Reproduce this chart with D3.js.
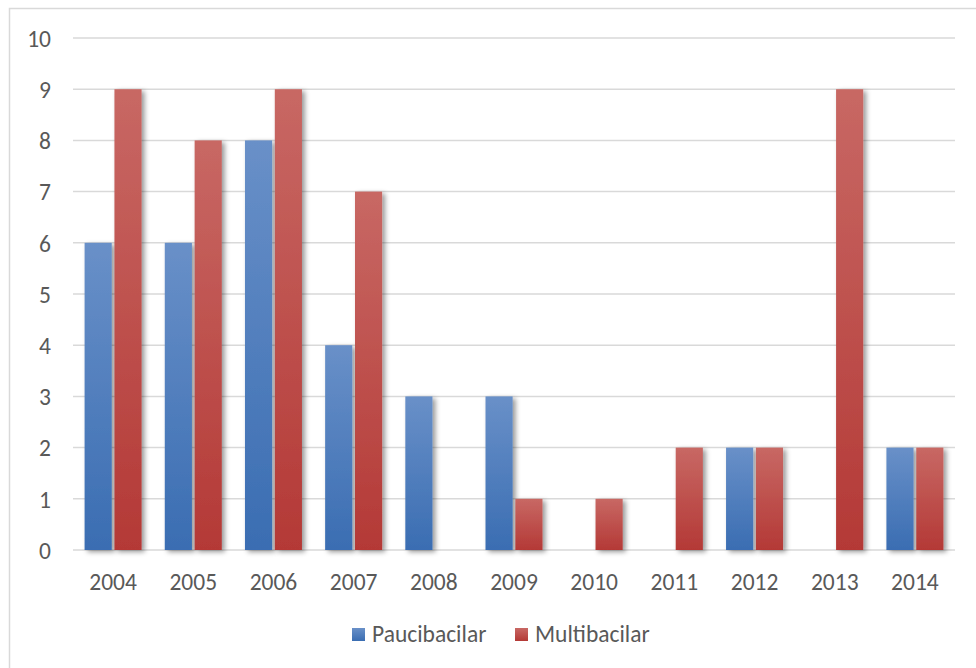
<!DOCTYPE html>
<html>
<head>
<meta charset="utf-8">
<script src="https://cdn.jsdelivr.net/npm/d3@7"></script>
<style>
  html, body { margin: 0; padding: 0; background: #fff; }
  svg { display: block; }
  text { font-family: Carlito, "Open Sans", "Liberation Sans", sans-serif; fill: #595959; }
</style>
</head>
<body>
<svg id="chart" width="976" height="668"></svg>
<script>
// Cases per year by clinical form
const years = ["2004", "2005", "2006", "2007", "2008", "2009", "2010", "2011", "2012", "2013", "2014"];
const paucibacilar = [6, 6, 8, 4, 3, 3, 0, 0, 2, 0, 2];
const multibacilar = [9, 8, 9, 7, 0, 1, 1, 2, 2, 9, 2];
const seriesNames = ["Paucibacilar", "Multibacilar"];
const yTicks = [0, 1, 2, 3, 4, 5, 6, 7, 8, 9, 10];

const svg = d3.select("#chart");
const W = 976, H = 668;
const plot = { left: 73, right: 955, top: 38, bottom: 550 };
const FONT = 'Carlito, "Open Sans", "Liberation Sans", sans-serif';
const FS = 23.5;

const defs = svg.append("defs");
const grads = [
  { id: "gBlue", top: "#6990c8", bottom: "#3a6db2" },
  { id: "gRed", top: "#c86864", bottom: "#b43936" }
];
grads.forEach(g => {
  const lg = defs.append("linearGradient").attr("id", g.id)
    .attr("x1", 0).attr("y1", 0).attr("x2", 0).attr("y2", 1);
  lg.append("stop").attr("offset", "0%").attr("stop-color", g.top);
  lg.append("stop").attr("offset", "100%").attr("stop-color", g.bottom);
});
const f = defs.append("filter").attr("id", "shadow")
  .attr("x", "-30%").attr("y", "-10%").attr("width", "180%").attr("height", "130%");
f.append("feDropShadow").attr("dx", 3).attr("dy", 2).attr("stdDeviation", 2.6)
  .attr("flood-color", "#000").attr("flood-opacity", 0.4);

// Outer frame
svg.append("rect").attr("x", 9.5).attr("y", 8.5).attr("width", W + 10).attr("height", H + 10)
  .attr("fill", "none").attr("stroke", "#d9d9d9").attr("stroke-width", 1.5);

const y = d3.scaleLinear().domain([0, 10]).range([plot.bottom, plot.top]);
const x0 = d3.scaleBand().domain(years).range([plot.left, plot.right]).padding(0);
const groupW = 57;
const x1 = d3.scaleBand().domain(seriesNames)
  .range([x0.bandwidth() / 2 - groupW / 2, x0.bandwidth() / 2 + groupW / 2])
  .paddingInner(0.09);

// Gridlines
svg.append("g").selectAll("line").data(yTicks).join("line")
  .attr("x1", plot.left).attr("x2", plot.right)
  .attr("y1", d => y(d)).attr("y2", d => y(d))
  .attr("stroke", "#d9d9d9").attr("stroke-width", 1.5);

// Y axis labels
const yAxis = d3.axisLeft(y).tickValues(yTicks).tickSize(0).tickPadding(0);
const ya = svg.append("g").attr("transform", `translate(51,0)`).call(yAxis);
ya.select(".domain").remove();
ya.selectAll("text").attr("font-size", FS).attr("fill", "#595959")
  .style("font-family", FONT).attr("dy", "0.35em");

// X axis labels
const xAxis = d3.axisBottom(x0).tickSize(0).tickPadding(0);
const xa = svg.append("g").attr("transform", `translate(0,${plot.bottom + 32})`).call(xAxis);
xa.select(".domain").remove();
xa.selectAll("text").attr("font-size", FS).attr("fill", "#595959")
  .style("font-family", FONT).attr("dy", "0.35em");

// Bars
const rows = years.map((yr, i) => ({ year: yr, values: [paucibacilar[i], multibacilar[i]] }));
const fills = ["url(#gBlue)", "url(#gRed)"];
const groups = svg.append("g").selectAll("g").data(rows).join("g")
  .attr("transform", d => `translate(${x0(d.year)},0)`);
groups.selectAll("rect")
  .data(d => d.values.map((v, k) => ({ v, k })).filter(e => e.v > 0))
  .join("rect")
  .attr("x", e => x1(seriesNames[e.k]))
  .attr("width", x1.bandwidth())
  .attr("y", e => y(e.v))
  .attr("height", e => y(0) - y(e.v))
  .attr("fill", e => fills[e.k])
  .attr("filter", "url(#shadow)");

// Legend
const legendItems = [
  { name: seriesNames[0], x: 352, fill: fills[0] },
  { name: seriesNames[1], x: 515, fill: fills[1] }
];
const lg = svg.append("g");
legendItems.forEach(it => {
  lg.append("rect").attr("x", it.x).attr("y", 628).attr("width", 13).attr("height", 13).attr("fill", it.fill);
  lg.append("text").attr("x", it.x + 20).attr("y", 634).attr("dy", "0.35em")
    .attr("font-size", FS).text(it.name);
});
</script>
</body>
</html>
